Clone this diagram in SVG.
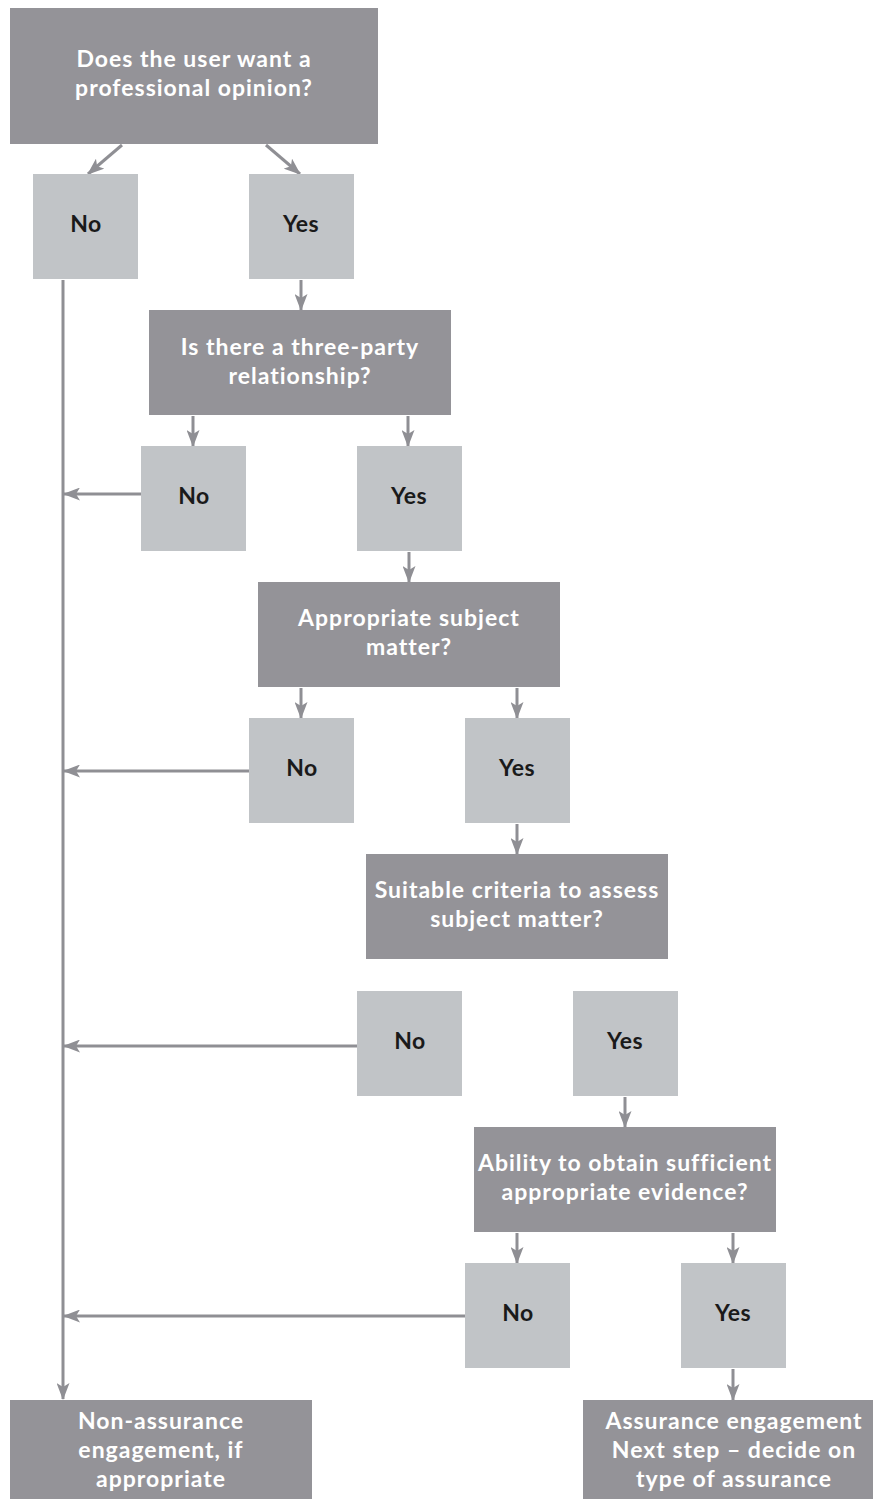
<svg xmlns="http://www.w3.org/2000/svg" width="873" height="1499" viewBox="0 0 873 1499">
<style>
.q{fill:#949398}
.a{fill:#c1c4c7}
.qt{font-family:"Lato","Open Sans",sans-serif;font-weight:700;font-size:23px;letter-spacing:1px;fill:#ffffff;text-anchor:middle}
.at{font-family:"Lato","Open Sans",sans-serif;font-weight:700;font-size:23px;letter-spacing:0.5px;fill:#1a1a1a;text-anchor:middle}
.c{stroke:#8f8f94;stroke-width:3;fill:none}
</style>
<defs>
<marker id="ah" viewBox="0 0 17 13" refX="16" refY="6.5" markerWidth="17" markerHeight="13" markerUnits="userSpaceOnUse" orient="auto">
<path d="M0,0 L17,6.5 L0,13 L4,6.5 Z" fill="#8f8f94"/>
</marker>
</defs>
<rect width="873" height="1499" fill="#ffffff"/>
<g id="connectors">
<line class="c" x1="122" y1="145" x2="88" y2="174" marker-end="url(#ah)"/>
<line class="c" x1="266" y1="145" x2="300" y2="174" marker-end="url(#ah)"/>
<line class="c" x1="63" y1="280" x2="63" y2="1399" marker-end="url(#ah)"/>
<line class="c" x1="301" y1="280" x2="301" y2="310" marker-end="url(#ah)"/>
<line class="c" x1="193" y1="416" x2="193" y2="446" marker-end="url(#ah)"/>
<line class="c" x1="408" y1="416" x2="408" y2="446" marker-end="url(#ah)"/>
<line class="c" x1="141" y1="494" x2="64" y2="494" marker-end="url(#ah)"/>
<line class="c" x1="409" y1="552" x2="409" y2="582" marker-end="url(#ah)"/>
<line class="c" x1="301" y1="688" x2="301" y2="718" marker-end="url(#ah)"/>
<line class="c" x1="517" y1="688" x2="517" y2="718" marker-end="url(#ah)"/>
<line class="c" x1="249" y1="771" x2="64" y2="771" marker-end="url(#ah)"/>
<line class="c" x1="517" y1="824" x2="517" y2="854" marker-end="url(#ah)"/>
<line class="c" x1="357" y1="1046" x2="64" y2="1046" marker-end="url(#ah)"/>
<line class="c" x1="625" y1="1097" x2="625" y2="1127" marker-end="url(#ah)"/>
<line class="c" x1="517" y1="1233" x2="517" y2="1263" marker-end="url(#ah)"/>
<line class="c" x1="733" y1="1233" x2="733" y2="1263" marker-end="url(#ah)"/>
<line class="c" x1="465" y1="1316" x2="64" y2="1316" marker-end="url(#ah)"/>
<line class="c" x1="733" y1="1369" x2="733" y2="1400" marker-end="url(#ah)"/>
</g>
<g id="q1"><rect class="q" x="10" y="8" width="368" height="136"/><text class="qt" x="194" y="67">Does the user want a</text><text class="qt" x="194" y="96">professional opinion?</text></g>
<g id="no1"><rect class="a" x="33" y="174" width="105" height="105"/><text class="at" x="86" y="232">No</text></g>
<g id="yes1"><rect class="a" x="249" y="174" width="105" height="105"/><text class="at" x="301" y="232">Yes</text></g>
<g id="q2"><rect class="q" x="149" y="310" width="302" height="105"/><text class="qt" x="300" y="355">Is there a three-party</text><text class="qt" x="300" y="384">relationship?</text></g>
<g id="no2"><rect class="a" x="141" y="446" width="105" height="105"/><text class="at" x="194" y="504">No</text></g>
<g id="yes2"><rect class="a" x="357" y="446" width="105" height="105"/><text class="at" x="409" y="504">Yes</text></g>
<g id="q3"><rect class="q" x="258" y="582" width="302" height="105"/><text class="qt" x="409" y="626">Appropriate subject</text><text class="qt" x="409" y="655">matter?</text></g>
<g id="no3"><rect class="a" x="249" y="718" width="105" height="105"/><text class="at" x="302" y="776">No</text></g>
<g id="yes3"><rect class="a" x="465" y="718" width="105" height="105"/><text class="at" x="517" y="776">Yes</text></g>
<g id="q4"><rect class="q" x="366" y="854" width="302" height="105"/><text class="qt" x="517" y="898">Suitable criteria to assess</text><text class="qt" x="517" y="927">subject matter?</text></g>
<g id="no4"><rect class="a" x="357" y="991" width="105" height="105"/><text class="at" x="410" y="1049">No</text></g>
<g id="yes4"><rect class="a" x="573" y="991" width="105" height="105"/><text class="at" x="625" y="1049">Yes</text></g>
<g id="q5"><rect class="q" x="474" y="1127" width="302" height="105"/><text class="qt" x="625" y="1171">Ability to obtain sufficient</text><text class="qt" x="625" y="1200">appropriate evidence?</text></g>
<g id="no5"><rect class="a" x="465" y="1263" width="105" height="105"/><text class="at" x="518" y="1321">No</text></g>
<g id="yes5"><rect class="a" x="681" y="1263" width="105" height="105"/><text class="at" x="733" y="1321">Yes</text></g>
<g id="end1"><rect class="q" x="10" y="1400" width="302" height="99"/><text class="qt" x="161" y="1429">Non-assurance</text><text class="qt" x="161" y="1458">engagement, if</text><text class="qt" x="161" y="1487">appropriate</text></g>
<g id="end2"><rect class="q" x="583" y="1400" width="290" height="99"/><text class="qt" x="734" y="1429">Assurance engagement</text><text class="qt" x="734" y="1458">Next step – decide on</text><text class="qt" x="734" y="1487">type of assurance</text></g>
</svg>
